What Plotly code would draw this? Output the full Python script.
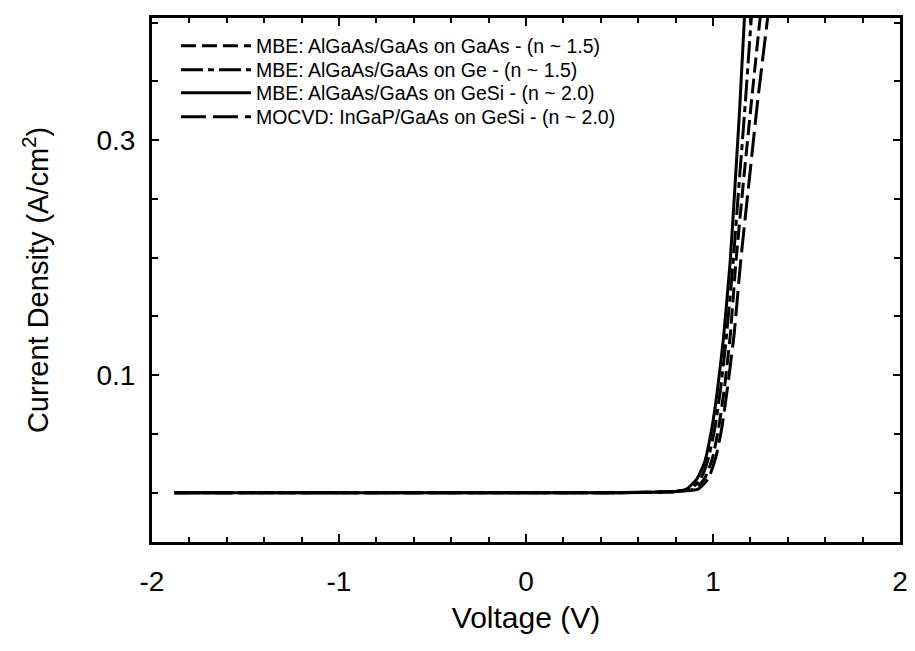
import plotly.graph_objects as go

FONT = "Liberation Sans, Arial, sans-serif"

names = [
    "MBE: AlGaAs/GaAs on GaAs - (n ~ 1.5)",
    "MBE: AlGaAs/GaAs on Ge - (n ~ 1.5)",
    "MBE: AlGaAs/GaAs on GeSi - (n ~ 2.0)",
    "MOCVD: InGaP/GaAs on GeSi - (n ~ 2.0)",
]

x_tickvals = [-2, -1, 0, 1, 2]
x_ticktext = ["-2", "-1", "0", "1", "2"]
y_tickvals = [0.1, 0.3]
y_ticktext = ["0.1", "0.3"]

# MBE on GaAs (short dashes)
v_gaas = [-1.88, -1.0, 0.0, 0.5, 0.8, 0.90, 0.955, 0.995, 1.03, 1.062, 1.093, 1.123, 1.163, 1.207, 1.252, 1.265]
j_gaas = [0.0, 0.0, 0.0, 0.0, 0.001, 0.003, 0.012, 0.028, 0.055, 0.09, 0.135, 0.197, 0.265, 0.335, 0.404, 0.42]

# MBE on Ge (long dash + short dash)
v_ge = [-1.88, -1.0, 0.0, 0.5, 0.8, 0.88, 0.935, 0.973, 1.01, 1.042, 1.073, 1.108, 1.138, 1.172, 1.205, 1.215]
j_ge = [0.0, 0.0, 0.0, 0.0, 0.001, 0.003, 0.012, 0.028, 0.055, 0.09, 0.135, 0.197, 0.26, 0.33, 0.404, 0.42]

# MBE on GeSi (solid)
v_gesi = [-1.88, -1.0, 0.0, 0.5, 0.8, 0.858, 0.915, 0.955, 0.994, 1.022, 1.055, 1.092, 1.118, 1.143, 1.168, 1.175]
j_gesi = [0.0, 0.0, 0.0, 0.0, 0.001, 0.003, 0.012, 0.026, 0.055, 0.085, 0.13, 0.197, 0.262, 0.328, 0.404, 0.42]

# MOCVD on GeSi (long dashes)
v_mocvd = [-1.88, -1.0, 0.0, 0.5, 0.8, 0.92, 0.975, 1.015, 1.047, 1.078, 1.113, 1.148, 1.193, 1.24, 1.292, 1.303]
j_mocvd = [0.0, 0.0, 0.0, 0.0, 0.001, 0.003, 0.012, 0.03, 0.055, 0.09, 0.135, 0.197, 0.265, 0.335, 0.404, 0.42]

series = [
    (names[0], v_gaas, j_gaas, "15px,6px"),
    (names[1], v_ge, j_ge, "22px,5px,6px,5px"),
    (names[2], v_gesi, j_gesi, "solid"),
    (names[3], v_mocvd, j_mocvd, "25px,7px"),
]

legend_ids = ["legend", "legend2", "legend3", "legend4"]
legend_y = [0.9466, 0.9008, 0.8569, 0.8111]

fig = go.Figure()
for (name, v, j, dash), lid in zip(series, legend_ids):
    fig.add_trace(go.Scatter(
        x=v, y=j, mode="lines", name=name, legend=lid,
        line=dict(color="black", width=3, dash=dash, shape="spline", smoothing=0.5),
    ))

legend_style = dict(
    x=0.032, xanchor="left", yanchor="middle",
    bgcolor="rgba(255,255,255,0)", borderwidth=0,
    font=dict(family=FONT, size=19.5, color="black"),
    itemwidth=70, tracegroupgap=0,
)

axis_common = dict(
    showline=True, linecolor="black", linewidth=3, mirror="allticks",
    ticks="inside", tickcolor="black", tickwidth=2, showgrid=False, zeroline=False,
    tickfont=dict(family=FONT, size=28, color="black"),
)

fig.update_layout(
    width=915, height=651,
    margin=dict(l=152, r=7, t=18, b=109),
    paper_bgcolor="white", plot_bgcolor="white",
    font=dict(family=FONT, color="black"),
    showlegend=True,
    xaxis=dict(
        range=[-2, 2], tickmode="array", tickvals=x_tickvals, ticktext=x_ticktext, ticklen=8,
        minor=dict(dtick=0.2, tick0=0, ticklen=5, ticks="inside", tickcolor="black", tickwidth=2),
        ticklabelstandoff=12,
        title=dict(text="Voltage (V)", font=dict(family=FONT, size=30, color="black"), standoff=12),
        **axis_common,
    ),
    yaxis=dict(
        range=[-0.042, 0.404], tickmode="array", tickvals=y_tickvals, ticktext=y_ticktext, ticklen=7,
        minor=dict(dtick=0.05, tick0=0, ticklen=6, ticks="inside", tickcolor="black", tickwidth=2),
        ticklabelstandoff=8,
        title=dict(text="Current Density (A/cm<sup>2</sup>)", font=dict(family=FONT, size=29, color="black"), standoff=40),
        **axis_common,
    ),
)
for lid, ly in zip(legend_ids, legend_y):
    fig.update_layout({lid: dict(y=ly, **legend_style)})

fig.write_html("out.html")
